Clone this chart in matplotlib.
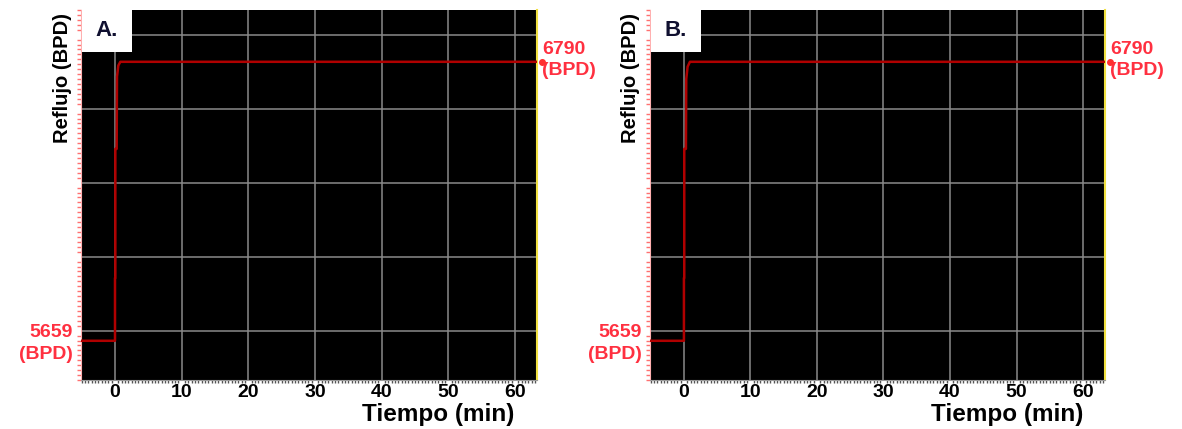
import matplotlib.pyplot as plt
from matplotlib.ticker import MultipleLocator
from matplotlib.patches import Rectangle

# step response of reflux flow (BPD) vs time (min)
panels = ["A.", "B."]
t_a = [-6, 0.0, 0.0, 0.05, 0.05, 0.25, 0.3, 0.5, 0.8, 64]
y_a = [5659, 5659, 5914, 5914, 6437, 6437, 6730, 6775, 6790, 6790]
t_b = [-6, 0.0, 0.0, 0.05, 0.05, 0.3, 0.35, 0.55, 0.9, 64]
y_b = [5659, 5659, 5914, 5914, 6437, 6437, 6720, 6770, 6790, 6790]
y_start = 5659
y_end = 6790
x_ticks = [0, 10, 20, 30, 40, 50, 60]
y_grid = [5700, 6000, 6300, 6600, 6900]

plt.rcParams["font.family"] = ["Liberation Sans", "DejaVu Sans"]
plt.rcParams["font.weight"] = "bold"

fig = plt.figure(figsize=(11.82, 4.29), dpi=100)
W, H = 1182, 429

boxes = [(81, 537), (650, 1105)]
series = [(t_a, y_a), (t_b, y_b)]

for i, (x0, x1) in enumerate(boxes):
    ax = fig.add_axes([x0 / W, (H - 380) / H, (x1 - x0) / W, 370 / H])
    ax.set_facecolor("black")
    t, y = series[i]
    ax.plot(t, y, color="#b00000", lw=1.8, zorder=3)
    ax.plot([t[-1]], [y[-1]], "o", color="#ff3030", ms=4, zorder=4, clip_on=False)

    ax.set_xlim(-5.1, 63.3)
    ax.set_ylim(5500, 7000)
    ax.set_xticks(x_ticks)
    ax.set_yticks(y_grid)
    ax.set_yticklabels([])
    ax.xaxis.set_minor_locator(MultipleLocator(0.5))
    ax.yaxis.set_minor_locator(MultipleLocator(20))
    ax.grid(True, which="major", color="#8a8a8a", lw=1.1)
    ax.tick_params(axis="x", which="major", length=0, labelsize=14, pad=3)
    ax.tick_params(axis="y", which="major", length=0)
    ax.tick_params(axis="x", which="minor", length=2, color="#555555", width=1)
    ax.tick_params(axis="y", which="minor", length=3, color="#ff7070", width=1)
    for lbl in ax.get_xticklabels():
        lbl.set_fontweight("bold")

    ax.spines["right"].set_color("#f0e040")
    ax.spines["right"].set_linewidth(1.5)
    ax.spines["top"].set_visible(False)
    ax.spines["left"].set_color("#ffb0b0")
    ax.spines["bottom"].set_color("#999999")

    # panel tag
    ax.add_patch(Rectangle((0.002, 0.887), 50 / (x1 - x0), 42 / 370,
                           transform=ax.transAxes, facecolor="white",
                           edgecolor="none", zorder=5))
    ax.text(0.002 + 25 / (x1 - x0), 0.887 + 21 / 370, panels[i],
            transform=ax.transAxes, ha="center", va="center",
            fontsize=16, fontweight="bold", color="#101030", zorder=6)

    ax.text(-0.018, y_start - 12, f"{y_start}\n(BPD)", transform=ax.get_yaxis_transform(),
            ha="right", va="center", color="#ff3040", fontsize=14,
            fontweight="bold", linespacing=1.35)
    ax.text(1.012, y_end + 8, f"{y_end}\n(BPD)", transform=ax.get_yaxis_transform(),
            ha="left", va="center", color="#ff3040", fontsize=14,
            fontweight="bold", linespacing=1.35)

    fig.text((x0 - 19) / W, 1 - 78 / H, "Reflujo (BPD)", rotation=90,
             ha="center", va="center", fontsize=14.5, fontweight="bold")
    fig.text((x0 + 357) / W, 1 - 414 / H, "Tiempo (min)", ha="center",
             va="center", fontsize=17.5, fontweight="bold")

fig.savefig("out.png", dpi=100)
